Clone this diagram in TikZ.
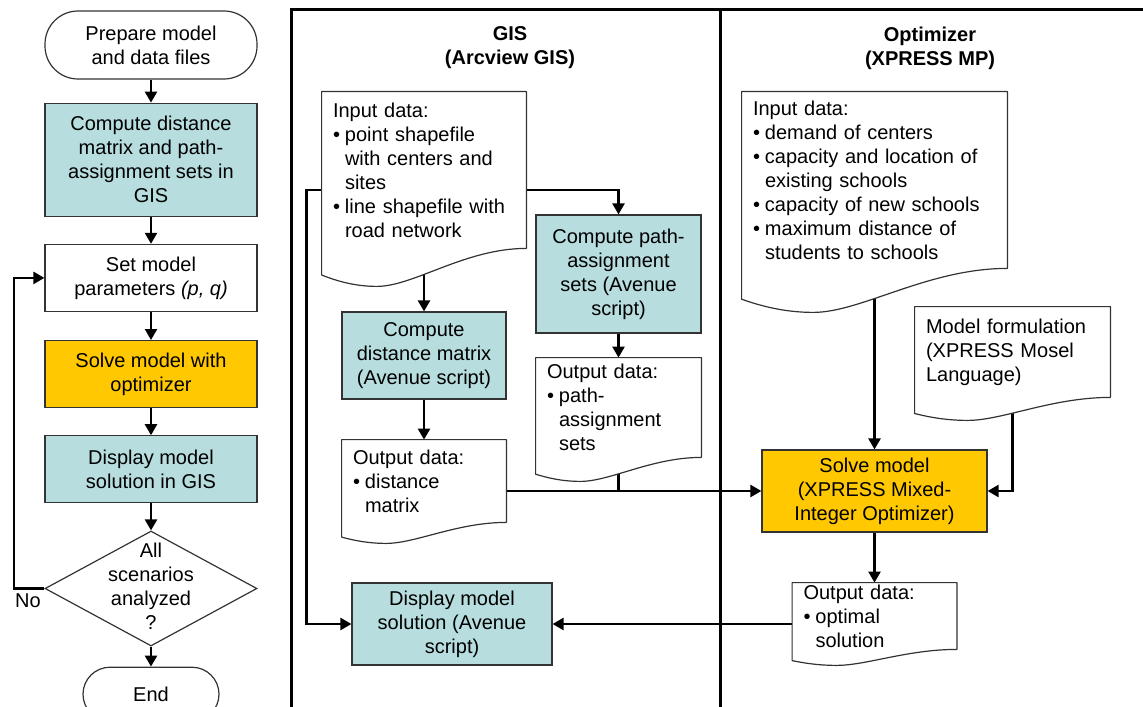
\documentclass[tikz,border=0pt]{standalone}
\usepackage{fontspec}
\setmainfont{Liberation Sans}
\usetikzlibrary{arrows.meta,positioning,shapes.geometric,calc,backgrounds}
\definecolor{gisteal}{RGB}{183,221,222}
\definecolor{optorange}{RGB}{255,200,0}
\newcommand{\bul}{\makebox[6pt][l]{\textbullet}}
\newcommand{\ind}{\hspace*{6pt}}
% wavy outline of a document node, #2 = depth of the wave
\newcommand{\docout}[2]{%
  \draw[docline] let \p1=(#1.south west), \p2=(#1.south east), \n1={\x2-\x1}, \n2={#2} in
    (\x1,\y2-0.7*\n2) -- (#1.north west) -- (#1.north east) -- (\p2)
    .. controls (\x2-0.3*\n1,\y2) and (\x1+0.45*\n1,\y2-\n2) .. (\x1+0.27*\n1,\y2-\n2)
    .. controls (\x1+0.16*\n1,\y2-\n2) and (\x1+0.07*\n1,\y2-0.85*\n2) .. (\x1,\y2-0.7*\n2) -- cycle;}

\begin{document}
\begin{tikzpicture}[
   x=0.5pt,y=-0.5pt,
   every node/.style={font=\fontsize{10}{12}\selectfont},
   node distance=13.5pt,
   head/.style={font=\fontsize{10}{12}\selectfont\bfseries,align=center},
   proc/.style={draw=black!80,line width=0.6pt,align=center,inner sep=2pt,minimum width=106pt},
   gis/.style={proc,fill=gisteal},
   opt/.style={proc,fill=optorange},
   term/.style={proc,rounded corners=16.5pt},
   doc/.style={inner xsep=5.5pt,inner ysep=0pt,align=left},
   docline/.style={draw=black!80,line width=0.6pt,fill=white,line join=round},
   link/.style={-{Triangle[length=5.5pt,width=6pt]},line width=1.2pt},
   tie/.style={line width=1.2pt},
   divider/.style={line width=1.5pt}]
\useasboundingbox (0,0) rectangle (1143,706);

% main loop
\node[term,minimum height=34pt] (start) at (151,45) {Prepare model\\and data files};
\node[gis,minimum height=56.5pt,below=11.5pt of start] (cgis) {Compute distance\\matrix and path-\\assignment sets in\\GIS};
\node[proc,minimum height=33.5pt,below=of cgis] (setpar) {Set model\\parameters \textit{(p, q)}};
\node[opt,minimum height=33.5pt,below=14pt of setpar] (solveopt) {Solve model with\\optimizer};
\node[gis,minimum height=33.5pt,below=of solveopt] (dispgis) {Display model\\solution in GIS};
\node[draw=black!80,line width=0.6pt,diamond,minimum width=106pt,minimum height=57.5pt,inner sep=0pt,below=of dispgis] (dec) {};
\node[align=center] (dectxt) at ([yshift=1pt]dec.center) {All\\scenarios\\analyzed\\?};
\node[proc,rounded corners=13.5pt,minimum width=68pt,minimum height=27pt,below=10pt of dec] (endt) {End};
\node (nolab) at (28,601) {No};
\coordinate (loopx) at (14,582);

% lanes
\draw[divider] (291,710) -- (291,10) -- (1146,10);
\draw[divider] (720,10) -- (720,710);
\node[head] (gishead) at (510,48) {GIS\\(Arcview GIS)};
\node[head] (opthead) at (930,48) {Optimizer\\(XPRESS MP)};

% GIS lane
\node[doc,minimum width=102pt,minimum height=78pt,text width=91pt] (gisin) at (424,170)
  {Input data:\\\bul point shapefile\\\ind with centers and\\\ind sites\\\bul line shapefile with\\\ind road network};
\node[gis,minimum width=82.5pt,minimum height=59pt] (cpath) at (618.5,274) {Compute path-\\assignment\\sets (Avenue\\script)};
\node[gis,minimum width=82pt,minimum height=43.5pt] (cdist) at (424,355.5) {Compute\\distance matrix\\(Avenue script)};
\node[doc,minimum width=82.5pt,minimum height=49.5pt,text width=71.5pt] (pathout) at (618.5,407.5)
  {Output data:\\\bul path-\\\ind assignment\\\ind sets};
\node[doc,minimum width=82pt,minimum height=41pt,text width=71pt] (distout) at (424,481)
  {Output data:\\\bul distance\\\ind matrix};
\node[gis,minimum width=100pt,minimum height=41pt] (dispsol) at (452,624) {Display model\\solution (Avenue\\script)};

% optimizer lane
\node[doc,minimum width=132.5pt,minimum height=88pt,text width=121.5pt] (optin) at (874.5,180)
  {Input data:\\\bul demand of centers\\\bul capacity and location of\\\ind existing schools\\\bul capacity of new schools\\\bul maximum distance of\\\ind students to schools};
\node[doc,minimum width=97.5pt,minimum height=45pt,text width=86.5pt] (modelf) at (1012.5,352)
  {Model formulation\\(XPRESS Mosel\\Language)};
\node[opt,minimum width=112.5pt,minimum height=41pt] (solve) at (874.5,491) {Solve model\\(XPRESS Mixed-\\Integer Optimizer)};
\node[doc,minimum width=82pt,minimum height=33pt,text width=71pt] (optout) at (874.5,616)
  {Output data:\\\bul optimal\\\ind solution};

\begin{scope}[on background layer]
\draw[link] (start) -- (cgis);
\draw[link] (cgis) -- (setpar);
\draw[link] (setpar) -- (solveopt);
\draw[link] (solveopt) -- (dispgis);
\draw[link] (dispgis) -- (dec);
\draw[link] (dec) -- (endt);
\draw[link] (dec.west) -- (dec.west -| loopx) |- (setpar.west);

\draw[link] (gisin) -- (cdist);
\draw[link] ([yshift=-10pt]gisin.east) -| (cpath.north);
\draw[link] ([yshift=-10pt]gisin.west) -- ++(-15,0) |- (dispsol.west);
\draw[link] (cpath) -- (pathout);
\draw[link] (cdist) -- (distout);
\draw[link] ([yshift=-5pt]distout.east) -- (solve.west);
\draw[tie] (pathout.south) -- (pathout.south |- solve.west);
\draw[link] (optin) -- (solve);
\draw[link] (modelf.south) |- (solve.east);
\draw[link] (solve) -- (optout);
\draw[link] (optout.west |- dispsol.east) -- (dispsol.east);

\docout{gisin}{19pt}
\docout{pathout}{12pt}
\docout{distout}{10.5pt}
\docout{optin}{22pt}
\docout{modelf}{11.5pt}
\docout{optout}{8pt}
\end{scope}
\end{tikzpicture}
\end{document}
